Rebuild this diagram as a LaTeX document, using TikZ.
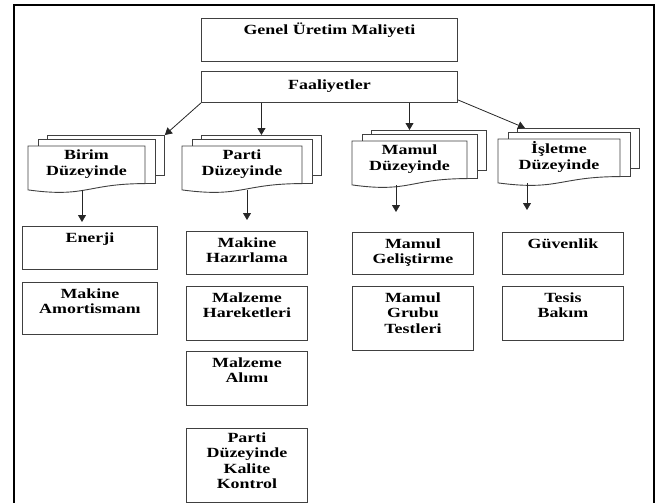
\documentclass[tikz,border=0pt]{standalone}
\usepackage{fontspec}
\usetikzlibrary{arrows.meta,positioning}
\newfontfamily\diafont[FakeStretch=1.28]{Liberation Serif}

\tikzset{
  box/.style={draw=black!75, line width=0.9pt, fill=white, inner sep=0pt},
  lbl/.style={font=\diafont\bfseries\fontsize{14}{15.5}\selectfont, align=center, inner sep=0pt},
  txt/.style={lbl, anchor=north, yshift=-6.5pt},
  arr/.style={draw=black!85, line width=0.8pt, -{Triangle[length=7pt,width=8pt]}},
}

% stacked documents: name, left, top, width, foot offset, text
\newcommand{\docstack}[6]{%
  \node[box, anchor=north west, minimum width=#4pt, minimum height=40pt] (#1back) at (#2+19,#3-11) {};
  \node[box, anchor=north west, minimum width=#4pt, minimum height=44pt] (#1mid) at (#2+9.5,#3-7) {};
  \draw[box] (#2,#3) -- (#2+#4,#3) -- (#2+#4,#3+37.6)
    .. controls (#2+#4/2,#3+37.6) and (#2+#4/2,#3+52) .. (#2,#3+43.9) -- cycle;
  \node[lbl] (#1) at (#2+#4/2,#3+18) {#6};
  \coordinate (#1foot) at (#2+#5,#3+44);
}

\begin{document}
\begin{tikzpicture}[x=1pt, y=-1pt]
\useasboundingbox (0,0) rectangle (661,503);
\draw[line width=2pt] (14,503) -- (14,5) -- (654,5) -- (654,503);

\node[box, anchor=north west, minimum width=256pt, minimum height=43pt,
  label={[txt,yshift=1.5pt]north:{Genel Üretim Maliyeti}}] (genel) at (201,18) {};
\node[box, anchor=north west, minimum width=256pt, minimum height=31pt,
  label={[txt,yshift=-2pt]north:{Faaliyetler}}] (faal) at (201,71) {};

% düzeyler
\docstack{birim}{28}{146}{117}{54}{Birim\\Düzeyinde}
\docstack{parti}{182}{146}{120}{65}{Parti\\Düzeyinde}
\docstack{mamul}{352}{141}{115}{44}{Mamul\\Düzeyinde}
\docstack{isletme}{498}{139}{122}{29}{İşletme\\Düzeyinde}

% birim
\node[box, anchor=north west, minimum width=135pt, minimum height=43pt,
  label={[txt]north:{Enerji}}] (enerji) at (22,226) {};
\node[box, below=12pt of enerji, minimum width=135pt, minimum height=52pt,
  label={[txt]north:{Makine\\Amortismanı}}] (amort) {};

% parti
\node[box, anchor=north west, minimum width=121pt, minimum height=43pt,
  label={[txt]north:{Makine\\Hazırlama}}] (hazir) at (186,231) {};
\node[box, below=11pt of hazir, minimum width=121pt, minimum height=54pt,
  label={[txt]north:{Malzeme\\Hareketleri}}] (hareket) {};
\node[box, below=10pt of hareket, minimum width=121pt, minimum height=54pt,
  label={[txt]north:{Malzeme\\Alımı}}] (alim) {};
\node[box, below=22pt of alim, minimum width=121pt, minimum height=74pt,
  label={[txt,yshift=2pt]north:{Parti\\Düzeyinde\\Kalite\\Kontrol}}] (kalite) {};

% mamul
\node[box, anchor=north west, minimum width=121pt, minimum height=42pt,
  label={[txt]north:{Mamul\\Geliştirme}}] (gelis) at (352,232) {};
\node[box, below=11pt of gelis, minimum width=121pt, minimum height=64pt,
  label={[txt]north:{Mamul\\Grubu\\Testleri}}] (testler) {};

% isletme
\node[box, anchor=north west, minimum width=121pt, minimum height=42pt,
  label={[txt]north:{Güvenlik}}] (guven) at (502,232) {};
\node[box, below=11pt of guven, minimum width=121pt, minimum height=54pt,
  label={[txt]north:{Tesis\\Bakım}}] (tesis) {};

\draw[arr] (faal.south west) -- (birimback.north east);
\draw[arr] (partiback.north |- faal.south) -- (partiback.north);
\draw[arr] (mamul.north |- faal.south) -- (mamul.north |- mamulback.north);
\draw[arr] ([yshift=3pt]faal.south east) -- ([xshift=8pt]isletmeback.north west);

\draw[arr, shorten >=4pt] (birimfoot) -- (birimfoot |- enerji.north);
\draw[arr, shorten >=11pt] (partifoot) -- (partifoot |- hazir.north);
\draw[arr, shorten >=20pt] (mamulfoot) -- (mamulfoot |- gelis.north);
\draw[arr, shorten >=22pt] (isletmefoot) -- (isletmefoot |- guven.north);
\end{tikzpicture}
\end{document}
